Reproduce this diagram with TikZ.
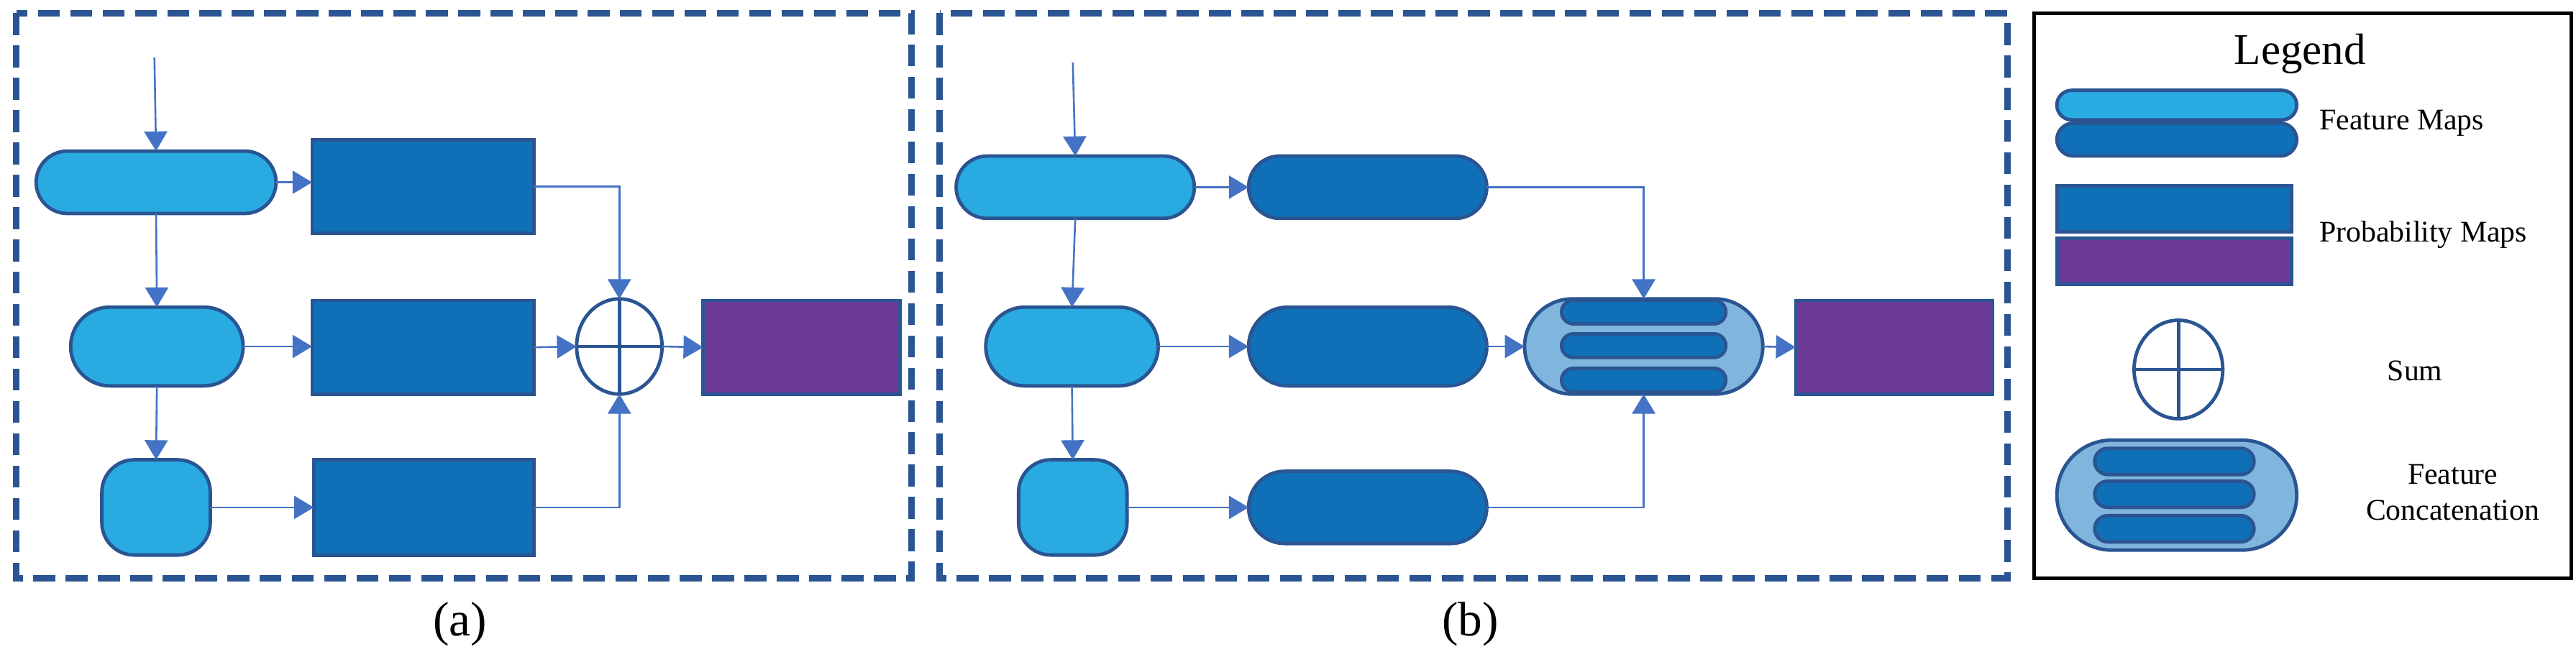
\documentclass[tikz,border=0pt]{standalone}
\usepackage{fontspec}
\setmainfont{Liberation Serif}
\usetikzlibrary{shapes.misc,shapes.geometric,arrows.meta}
\definecolor{lb}{HTML}{29ABE2}
\definecolor{db}{HTML}{0F70B7}
\definecolor{bd}{HTML}{2A5592}
\definecolor{pu}{HTML}{6B3A96}
\definecolor{ar}{HTML}{4472C4}
\definecolor{cc}{HTML}{80B6DE}
\tikzset{
 base/.style={draw=bd,line width=3pt,inner sep=0pt,outer sep=0pt},
 pill/.style={base,rounded rectangle,fill=lb},
 dpill/.style={base,rounded rectangle,fill=db},
 prob/.style={base,rectangle,fill=db},
 purp/.style={base,rectangle,fill=pu},
 sum/.style={base,ellipse,fill=white},
 conc/.style={base,rounded rectangle,fill=cc},
 ipill/.style={base,rounded rectangle,fill=db,minimum width=5cm,minimum height=0.72cm},
 arr/.style={draw=ar,line width=1.6pt,-{Triangle[length=17pt,width=20pt]}},
 panel/.style={draw=bd,line width=5.5pt,dash pattern=on 19pt off 9pt},
 lab/.style={font=\fontsize{42}{46}\selectfont},
 ltxt/.style={font=\fontsize{26}{31}\selectfont,align=center},
}
\begin{document}
\begin{tikzpicture}[x=0.05cm,y=-0.05cm]
\useasboundingbox (0,0) rectangle (1568,400);
% panel (a)
\draw[panel] (10,8) rectangle (555,352);
\node[lab] (ca) at (280,380) {(a)};
\coordinate (ina) at (94,35);
\node[pill,minimum width=7.3cm,minimum height=1.9cm] (A1) at (95,111) {};
\node[pill,minimum width=5.25cm,minimum height=2.4cm] (A2) at (95.5,211) {};
\node[base,fill=lb,rounded corners=28pt,minimum width=3.3cm,minimum height=2.9cm] (A3) at (95,309) {};
\node[prob,minimum width=6.75cm,minimum height=2.85cm] (P1) at (257.5,113.5) {};
\node[prob,minimum width=6.75cm,minimum height=2.85cm] (P2) at (257.5,211.5) {};
\node[prob,minimum width=6.7cm,minimum height=2.9cm] (P3) at (258,309) {};
\node[sum,minimum width=2.6cm,minimum height=2.9cm] (S) at (377,211) {};
\draw[bd,line width=3pt] (S.north)--(S.south) (S.west)--(S.east);
\node[purp,minimum width=6cm,minimum height=2.85cm] (Q1) at (488,211.5) {};
\draw[arr] (ina) -- (A1.north);
\draw[arr] (A1.south) -- (A2.north);
\draw[arr] (A2.south) -- (A3.north);
\draw[arr] (A1.east) -- (A1.east -| P1.west);
\draw[arr] (A2.east) -- (A2.east -| P2.west);
\draw[arr] (A3.east) -- (A3.east -| P3.west);
\draw[arr] (P1.east) -| (S.north);
\draw[arr] (P3.east) -| (S.south);
\draw[arr] (P2.east) -- (S.west);
\draw[arr] (S.east) -- (Q1.west);
% panel (b)
\draw[panel] (572,8) rectangle (1222,352);
\node[lab] (cb) at (895,380) {(b)};
\coordinate (inb) at (653,38);
\node[pill,minimum width=7.25cm,minimum height=1.9cm] (B1) at (654.5,114) {};
\node[pill,minimum width=5.25cm,minimum height=2.4cm] (B2) at (652.5,211) {};
\node[base,fill=lb,rounded corners=28pt,minimum width=3.3cm,minimum height=2.9cm] (B3) at (653,309) {};
\node[dpill,minimum width=7.25cm,minimum height=1.9cm] (D1) at (832.5,114) {};
\node[dpill,minimum width=7.25cm,minimum height=2.4cm] (D2) at (832.5,211) {};
\node[dpill,minimum width=7.25cm,minimum height=2.2cm] (D3) at (832.5,309) {};
\node[conc,minimum width=7.25cm,minimum height=2.9cm] (C) at (1000.5,211) {};
\node[ipill] (C1) at (1000.5,190) {};
\node[ipill] (C2) at (1000.5,210.5) {};
\node[ipill] (C3) at (1000.5,231.5) {};
\node[purp,minimum width=6cm,minimum height=2.85cm] (Q2) at (1153,211.5) {};
\draw[arr] (inb) -- (B1.north);
\draw[arr] (B1.south) -- (B2.north);
\draw[arr] (B2.south) -- (B3.north);
\draw[arr] (B1.east) -- (D1.west);
\draw[arr] (B2.east) -- (D2.west);
\draw[arr] (B3.east) -- (D3.west);
\draw[arr] (D1.east) -| (C.north);
\draw[arr] (D3.east) -| (C.south);
\draw[arr] (D2.east) -- (C.west);
\draw[arr] (C.east) -- (Q2.west);
% legend
\node[draw=black,line width=3pt,minimum width=16.35cm,minimum height=17.2cm,inner sep=0pt] (L) at (1401.5,180) {};
\node[font=\fontsize{38}{42}\selectfont] (Lt) at (1400,33) {Legend};
\node[pill,minimum width=7.3cm,minimum height=0.9cm] (L1) at (1325,64) {};
\node[dpill,minimum width=7.3cm,minimum height=1cm] (L2) at (1325,85) {};
\node[ltxt] (T1) at (1462,75) {Feature Maps};
\node[prob,minimum width=7.15cm,minimum height=1.4cm] (L3) at (1323.5,127) {};
\node[purp,minimum width=7.15cm,minimum height=1.4cm] (L4) at (1323.5,159) {};
\node[ltxt] (T2) at (1475,143) {Probability Maps};
\node[sum,minimum width=2.7cm,minimum height=3cm] (L5) at (1326,225) {};
\draw[bd,line width=3pt] (L5.north)--(L5.south) (L5.west)--(L5.east);
\node[ltxt] (T3) at (1470,226) {Sum};
\node[conc,minimum width=7.3cm,minimum height=3.35cm] (L6) at (1325,301.5) {};
\node[ipill,minimum width=4.85cm,minimum height=0.8cm] (L7) at (1323.5,281) {};
\node[ipill,minimum width=4.85cm,minimum height=0.8cm] (L8) at (1323.5,301) {};
\node[ipill,minimum width=4.85cm,minimum height=0.8cm] (L9) at (1323.5,322) {};
\node[ltxt] (T4) at (1493,300) {Feature\\Concatenation};
\end{tikzpicture}
\end{document}
